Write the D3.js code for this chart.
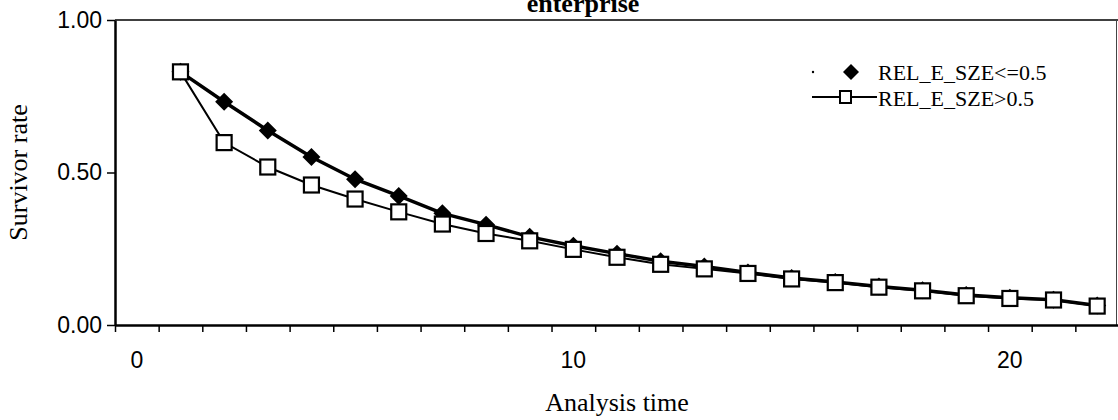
<!DOCTYPE html>
<html>
<head>
<meta charset="utf-8">
<script src="https://cdn.jsdelivr.net/npm/d3@7"></script>
<style>
	body { margin:0; background:#fff; }
	svg { display:block; }
</style>
</head>
<body>
<div id="container"></div>
<script>
// Chart data
var times = [1,2,3,4,5,6,7,8,9,10,11,12,13,14,15,16,17,18,19,20,21,22]
var smallRate = [0.83,0.732,0.638,0.551,0.478,0.423,0.366,0.329,0.289,0.260,0.234,0.209,0.192,0.172,0.154,0.141,0.126,0.114,0.098,0.089,0.083,0.064]
var largeRate = [0.83,0.598,0.518,0.459,0.413,0.371,0.331,0.300,0.276,0.248,0.222,0.199,0.184,0.169,0.151,0.139,0.124,0.112,0.096,0.087,0.082,0.062]
var seriesNames = ['REL_E_SZE<=0.5', 'REL_E_SZE>0.5']
var yTicks = [0, 0.5, 1]
var xLabels = [0, 10, 20]
var categoryCount = 23

var width = 1118, height = 420
var plot = {left:115, right:1119, top:20, bottom:325}

var svg = d3.select('#container').append('svg')
	.attr('width', width).attr('height', height)

var x = d3.scaleLinear().domain([-0.5, categoryCount - 0.5]).range([plot.left, plot.right])
var y = d3.scaleLinear().domain([0, 1]).range([plot.bottom, plot.top])

// title, cut off at the top of the scan
svg.append('text').attr('x', 583).attr('y', 12)
	.attr('text-anchor', 'middle')
	.style('font-family', 'Liberation Serif').style('font-weight', 'bold').style('font-size', '26px')
	.text('enterprise')

// plot frame
svg.append('line').attr('x1', plot.left).attr('x2', plot.right).attr('y1', plot.top).attr('y2', plot.top)
	.attr('stroke', '#000').attr('stroke-width', 1.5)
svg.append('line').attr('x1', 1116.5).attr('x2', 1116.5).attr('y1', plot.top).attr('y2', plot.bottom)
	.attr('stroke', '#444').attr('stroke-width', 1)

// y axis
var yAxis = svg.append('g').attr('transform', 'translate(' + plot.left + ',0)')
	.call(d3.axisLeft(y).tickValues(yTicks).tickFormat(d3.format('.2f')).tickSize(8).tickSizeOuter(0).tickPadding(5))
yAxis.selectAll('text').style('font-family', 'Liberation Sans').style('font-size', '23px').attr('fill', '#000')

// x axis: tick marks between categories, labels on category centers
var boundaries = d3.range(categoryCount + 1).map(function(i) { return i - 0.5 })
var xAxis = svg.append('g').attr('transform', 'translate(0,' + plot.bottom + ')')
	.call(d3.axisBottom(x).tickValues(boundaries).tickFormat('').tickSize(7).tickSizeOuter(0))
svg.append('g').selectAll('text').data(xLabels).enter().append('text')
	.attr('x', function(d) { return x(d) }).attr('y', 368)
	.attr('text-anchor', 'middle')
	.style('font-family', 'Liberation Sans').style('font-size', '23px')
	.text(function(d) { return d })

svg.selectAll('.domain').attr('stroke', '#000').attr('stroke-width', 2.5)
svg.selectAll('.tick line').attr('stroke', '#000').attr('stroke-width', 1.5)

// axis titles
svg.append('text').attr('x', x(11)).attr('y', 411)
	.attr('text-anchor', 'middle')
	.style('font-family', 'Liberation Serif').style('font-size', '26px')
	.text('Analysis time')
svg.append('text').attr('transform', 'translate(27,' + ((plot.top + plot.bottom) / 2) + ') rotate(-90)')
	.attr('text-anchor', 'middle')
	.style('font-family', 'Liberation Serif').style('font-size', '26px')
	.text('Survivor rate')

var line = d3.line()
	.x(function(d, i) { return x(times[i]) })
	.y(function(d) { return y(d) })

var diamond = function(cx, cy, r) {
	return 'M' + cx + ',' + (cy - r) + 'L' + (cx + r) + ',' + cy + 'L' + cx + ',' + (cy + r) + 'L' + (cx - r) + ',' + cy + 'Z'
}

// series 1: black diamonds, heavy line
svg.append('path').datum(smallRate).attr('d', line)
	.attr('fill', 'none').attr('stroke', '#000').attr('stroke-width', 3.5)
svg.append('g').selectAll('path').data(smallRate).enter().append('path')
	.attr('d', function(d, i) { return diamond(x(times[i]), y(d), 9) })
	.attr('fill', '#000')

// series 2: open squares, thinner line
svg.append('path').datum(largeRate).attr('d', line)
	.attr('fill', 'none').attr('stroke', '#000').attr('stroke-width', 2)
svg.append('g').selectAll('rect').data(largeRate).enter().append('rect')
	.attr('x', function(d, i) { return x(times[i]) - 7.5 })
	.attr('y', function(d) { return y(d) - 7.5 })
	.attr('width', 15).attr('height', 15)
	.attr('fill', '#fff').attr('stroke', '#000').attr('stroke-width', 2.2)

// legend
var legend = svg.append('g')
legend.append('circle').attr('cx', 813).attr('cy', 72).attr('r', 1.2).attr('fill', '#000')
legend.append('path').attr('d', diamond(851, 72, 8)).attr('fill', '#000')
legend.append('line').attr('x1', 812).attr('x2', 877).attr('y1', 97).attr('y2', 97)
	.attr('stroke', '#000').attr('stroke-width', 2)
legend.append('rect').attr('x', 840).attr('y', 91).attr('width', 11).attr('height', 12)
	.attr('fill', '#fff').attr('stroke', '#000').attr('stroke-width', 2)
legend.selectAll('text').data(seriesNames).enter().append('text')
	.attr('x', 878).attr('y', function(d, i) { return 80 + i * 26 })
	.style('font-family', 'Liberation Serif').style('font-size', '22px')
	.text(function(d) { return d })
</script>
</body>
</html>
